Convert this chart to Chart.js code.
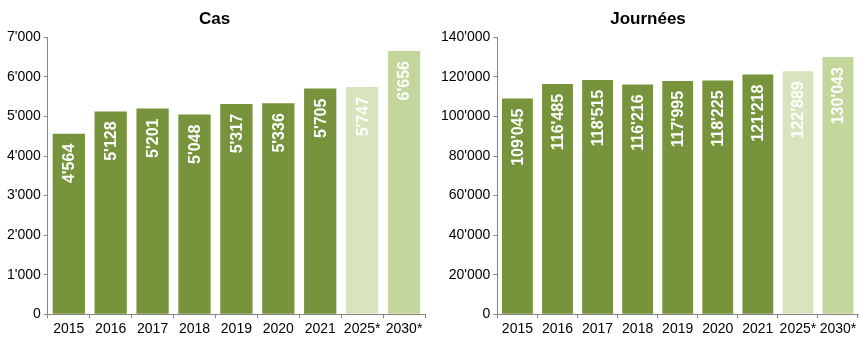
<!DOCTYPE html>
<html>
<head>
<meta charset="utf-8">
<script src="https://cdn.jsdelivr.net/npm/chart.js@4"></script>
<style>
  body { margin: 0; background: #fff; }
  .wrap { display: flex; width: 862px; height: 343px; }
  .box { position: relative; width: 431px; height: 343px; }
</style>
</head>
<body>
<div class="wrap">
  <div class="box"><canvas id="cas-chart"></canvas></div>
  <div class="box"><canvas id="jours-chart"></canvas></div>
</div>
<script>
const years = ['2015', '2016', '2017', '2018', '2019', '2020', '2021', '2025*', '2030*'];
const casValues = [4564, 5128, 5201, 5048, 5317, 5336, 5705, 5747, 6656];
const journeesValues = [109045, 116485, 118515, 116216, 117995, 118225, 121218, 122889, 130043];
const barColors = ['#77933c', '#77933c', '#77933c', '#77933c', '#77933c', '#77933c', '#77933c', '#d7e4bd', '#c3d69b'];

Chart.defaults.font.family = '"Liberation Sans", Arial, sans-serif';
Chart.defaults.color = '#000';

function fmt(v) {
    return String(Math.round(v)).replace(/\B(?=(\d{3})+(?!\d))/g, "'");
}

// white rotated value labels inside the top of each bar
const barLabels = {
    id: 'barLabels',
    afterDatasetsDraw(chart) {
        const ctx = chart.ctx;
        const meta = chart.getDatasetMeta(0);
        ctx.save();
        ctx.fillStyle = '#fff';
        ctx.font = 'bold 16px "Liberation Sans", Arial, sans-serif';
        ctx.textAlign = 'right';
        ctx.textBaseline = 'middle';
        meta.data.forEach((bar, i) => {
            ctx.save();
            ctx.translate(bar.x, bar.y + 10);
            ctx.rotate(-Math.PI / 2);
            ctx.fillText(fmt(chart.data.datasets[0].data[i]), 0, 1);
            ctx.restore();
        });
        ctx.restore();
    }
};

function makeChart(id, title, values, max, step, leftPad, rightPad) {
    new Chart(document.getElementById(id), {
        type: 'bar',
        data: {
            labels: years,
            datasets: [{
                data: values,
                backgroundColor: barColors,
                barPercentage: 0.77,
                categoryPercentage: 1
            }]
        },
        options: {
            responsive: true,
            maintainAspectRatio: false,
            animation: false,
            layout: { padding: { left: leftPad, right: rightPad, top: 4, bottom: 2 } },
            plugins: {
                legend: { display: false },
                tooltip: { enabled: false },
                title: {
                    display: true,
                    text: title,
                    font: { size: 17, weight: 'bold' },
                    color: '#000',
                    padding: { top: 5, bottom: 8 }
                }
            },
            scales: {
                x: {
                    grid: { drawOnChartArea: false, color: '#868686', tickLength: 4, offset: true },
                    border: { color: '#868686' },
                    ticks: { font: { size: 14 }, color: '#000', maxRotation: 0, autoSkip: false, padding: 3 }
                },
                y: {
                    min: 0,
                    max: max,
                    grid: { drawOnChartArea: false, color: '#868686', tickLength: 4 },
                    border: { color: '#868686' },
                    ticks: {
                        stepSize: step,
                        font: { size: 14 },
                        color: '#000',
                        padding: 3,
                        callback: v => fmt(v)
                    }
                }
            }
        },
        plugins: [barLabels]
    });
}

makeChart('cas-chart', 'Cas', casValues, 7000, 1000, 4, 6);
makeChart('jours-chart', 'Journées', journeesValues, 140000, 20000, 7, 4);
</script>
</body>
</html>
